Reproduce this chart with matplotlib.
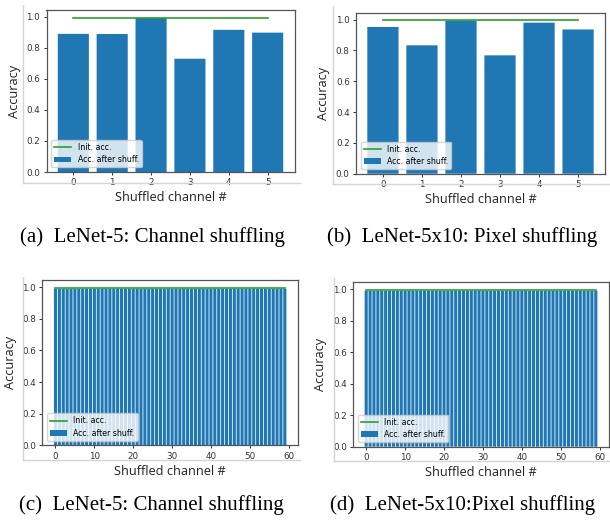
import matplotlib
matplotlib.use("Agg")
import matplotlib.pyplot as plt
from matplotlib.lines import Line2D

# ---------------- data ----------------
channels_a = [0, 1, 2, 3, 4, 5]
acc_a = [0.889, 0.888, 0.992, 0.729, 0.915, 0.897]
init_a = 0.993

channels_b = [0, 1, 2, 3, 4, 5]
acc_b = [0.952, 0.833, 0.993, 0.768, 0.980, 0.936]
init_b = 0.995

channels_c = list(range(60))
acc_c = [0.99, 0.99, 0.99, 0.99, 0.99, 0.99, 0.99, 0.99, 0.99, 0.99,
         0.99, 0.99, 0.99, 0.99, 0.99, 0.99, 0.99, 0.99, 0.99, 0.99,
         0.99, 0.99, 0.99, 0.99, 0.99, 0.99, 0.99, 0.99, 0.99, 0.99,
         0.99, 0.99, 0.99, 0.99, 0.99, 0.99, 0.99, 0.99, 0.99, 0.99,
         0.99, 0.99, 0.99, 0.99, 0.99, 0.99, 0.99, 0.99, 0.99, 0.99,
         0.99, 0.99, 0.99, 0.99, 0.99, 0.99, 0.99, 0.99, 0.99, 0.99]
init_c = 0.995

channels_d = list(range(60))
acc_d = [0.99, 0.99, 0.99, 0.99, 0.99, 0.99, 0.99, 0.99, 0.99, 0.99,
         0.99, 0.99, 0.99, 0.99, 0.99, 0.99, 0.99, 0.99, 0.99, 0.99,
         0.99, 0.99, 0.99, 0.99, 0.99, 0.99, 0.99, 0.99, 0.99, 0.99,
         0.99, 0.99, 0.99, 0.99, 0.99, 0.99, 0.99, 0.99, 0.99, 0.99,
         0.99, 0.99, 0.99, 0.99, 0.99, 0.99, 0.99, 0.99, 0.99, 0.99,
         0.99, 0.99, 0.99, 0.99, 0.99, 0.99, 0.99, 0.99, 0.99, 0.99]
init_d = 0.995

captions = ["(a)  LeNet-5: Channel shuffling",
            "(b)  LeNet-5x10: Pixel shuffling",
            "(c)  LeNet-5: Channel shuffling",
            "(d)  LeNet-5x10:Pixel shuffling"]
xlabel = "Shuffled channel #"
ylabel = "Accuracy"
legend_labels = ["Init. acc.", "Acc. after shuff."]

# ---------------- layout ----------------
W, H = 610, 522
fig = plt.figure(figsize=(W / 100, H / 100), dpi=100)


def add_ax(left, right, top, bottom):
    return fig.add_axes([left / W, 1 - bottom / H, (right - left) / W, (bottom - top) / H])


def frac(x, y):
    return x / W, 1 - y / H


def style(ax):
    for s in ax.spines.values():
        s.set_color("#555555")
        s.set_linewidth(0.9)
    ax.tick_params(labelsize=6.3, colors="#333333", length=2.5, width=0.7, pad=2)
    ax.set_xlabel(xlabel, fontsize=9.2, family="Open Sans", color="#222222", labelpad=3)
    ax.set_ylabel(ylabel, fontsize=9.2, family="Open Sans", color="#222222", labelpad=4)


panels = [
    (add_ax(46.5, 294.5, 10, 172), channels_a, acc_a, init_a, [0, 1, 2, 3, 4, 5]),
    (add_ax(356, 605, 12.7, 173.7), channels_b, acc_b, init_b, [0, 1, 2, 3, 4, 5]),
    (add_ax(42.3, 298, 280, 445.3), channels_c, acc_c, init_c, [0, 10, 20, 30, 40, 50, 60]),
    (add_ax(353, 609, 282, 446.7), channels_d, acc_d, init_d, [0, 10, 20, 30, 40, 50, 60]),
]

for ax, xs, ys, init, ticks in panels:
    ax.plot([xs[0], xs[-1]], [init, init], color="#2ca02c", lw=1.2, label=legend_labels[0])
    bars = ax.bar(xs, ys, width=0.8, color="#1f77b4", label=legend_labels[1])
    for b in bars:
        b.set_snap(False)
    ax.set_xticks(ticks)
    ax.set_yticks([0.0, 0.2, 0.4, 0.6, 0.8, 1.0])
    style(ax)
    ax.legend(loc="lower left", fontsize=5.6, frameon=True, framealpha=0.8,
              edgecolor="#cccccc", borderpad=0.4, handlelength=2.2,
              labelspacing=0.4, borderaxespad=0.6)

# screenshot crop borders
border = "#d4d4d4"
for (x, y0, y1, xr) in [(23, 5, 183, 300), (333, 6, 184, 610),
                        (23, 277, 460, 300), (334, 278, 461, 610)]:
    x0f, y0f = frac(x, y0)
    _, y1f = frac(x, y1)
    xrf, _ = frac(xr, y1)
    fig.add_artist(Line2D([x0f, x0f], [y0f, y1f], color=border, lw=1.0))
    fig.add_artist(Line2D([x0f, xrf], [y1f, y1f], color=border, lw=1.0))

# captions
cap_font = dict(family="Liberation Serif", fontsize=15, color="black", va="center", ha="center")
for cap, (cx, cy) in zip(captions, [(152, 237), (462, 237), (151, 505), (463, 505)]):
    fx, fy = frac(cx, cy)
    fig.text(fx, fy, cap, **cap_font)

fig.savefig("out.png", dpi=100)
